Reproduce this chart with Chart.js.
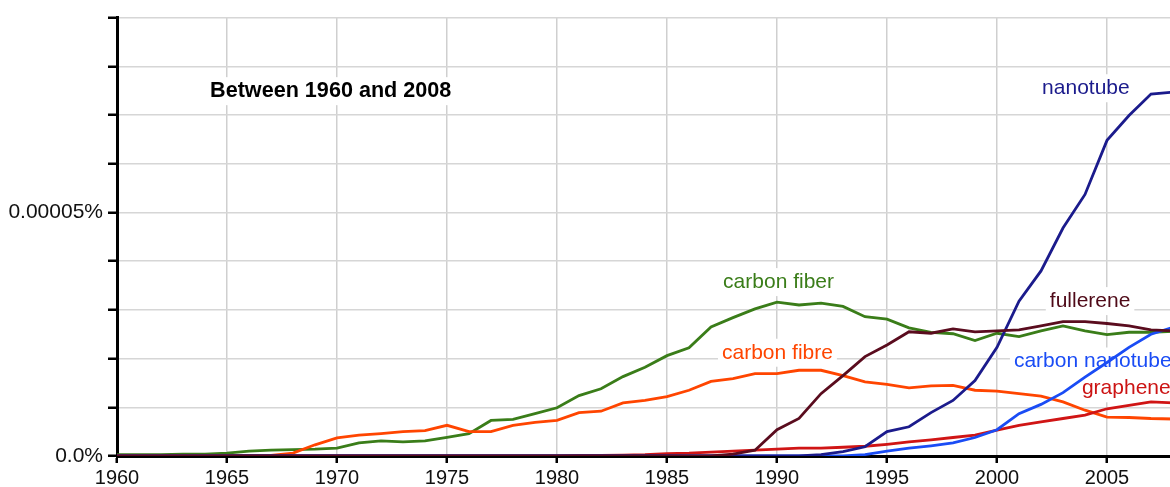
<!DOCTYPE html>
<html>
<head>
<meta charset="utf-8">
<script src="https://cdn.jsdelivr.net/npm/chart.js@4"></script>
<style>
  html, body { margin: 0; padding: 0; background: #fff; overflow: hidden; }
  #wrap { width: 1180px; height: 487px; position: relative; }
</style>
</head>
<body>
<div id="wrap"><canvas id="ngramChart"></canvas></div>
<script>
// values are in units of 0.00001 %
const years = [1960, 1961, 1962, 1963, 1964, 1965, 1966, 1967, 1968, 1969,
  1970, 1971, 1972, 1973, 1974, 1975, 1976, 1977, 1978, 1979,
  1980, 1981, 1982, 1983, 1984, 1985, 1986, 1987, 1988, 1989,
  1990, 1991, 1992, 1993, 1994, 1995, 1996, 1997, 1998, 1999,
  2000, 2001, 2002, 2003, 2004, 2005, 2006, 2007, 2008];

const carbonFiber = [0.03, 0.03, 0.03, 0.04, 0.04, 0.06, 0.10, 0.12, 0.13, 0.14,
  0.16, 0.27, 0.31, 0.29, 0.31, 0.38, 0.46, 0.73, 0.75, 0.87,
  0.99, 1.24, 1.38, 1.63, 1.82, 2.06, 2.22, 2.65, 2.84, 3.02,
  3.16, 3.10, 3.14, 3.07, 2.86, 2.81, 2.63, 2.54, 2.51, 2.37,
  2.52, 2.45, 2.57, 2.67, 2.57, 2.49, 2.54, 2.54, 2.56];

const carbonFibre = [0.01, 0.01, 0.01, 0.01, 0.01, 0.01, 0.01, 0.01, 0.06, 0.23,
  0.37, 0.43, 0.46, 0.50, 0.52, 0.63, 0.50, 0.50, 0.63, 0.69,
  0.73, 0.89, 0.92, 1.09, 1.14, 1.22, 1.35, 1.53, 1.59, 1.69,
  1.69, 1.76, 1.76, 1.65, 1.52, 1.47, 1.40, 1.44, 1.45, 1.35,
  1.33, 1.28, 1.23, 1.11, 0.94, 0.80, 0.79, 0.77, 0.76];

const fullerene = [0, 0, 0, 0, 0, 0, 0, 0, 0, 0,
  0, 0, 0, 0, 0, 0, 0, 0, 0, 0,
  0, 0, 0, 0, 0, 0, 0, 0, 0.04, 0.12,
  0.54, 0.77, 1.28, 1.65, 2.04, 2.28, 2.55, 2.52, 2.61, 2.55,
  2.57, 2.59, 2.67, 2.76, 2.76, 2.72, 2.67, 2.59, 2.57];

const nanotube = [0, 0, 0, 0, 0, 0, 0, 0, 0, 0,
  0, 0, 0, 0, 0, 0, 0, 0, 0, 0,
  0, 0, 0, 0, 0, 0, 0, 0, 0, 0,
  0, 0, 0.03, 0.09, 0.19, 0.50, 0.60, 0.89, 1.14, 1.55,
  2.23, 3.18, 3.80, 4.68, 5.37, 6.48, 6.99, 7.43, 7.47];

const carbonNanotube = [0, 0, 0, 0, 0, 0, 0, 0, 0, 0,
  0, 0, 0, 0, 0, 0, 0, 0, 0, 0,
  0, 0, 0, 0, 0, 0, 0, 0, 0, 0,
  0, 0, 0, 0, 0.03, 0.10, 0.16, 0.21, 0.27, 0.38,
  0.54, 0.87, 1.06, 1.30, 1.62, 1.92, 2.23, 2.50, 2.64];

const graphene = [0, 0, 0, 0, 0, 0, 0, 0, 0, 0,
  0, 0, 0, 0, 0, 0, 0, 0, 0, 0,
  0, 0.01, 0.01, 0.02, 0.03, 0.05, 0.06, 0.08, 0.10, 0.12,
  0.14, 0.16, 0.16, 0.18, 0.20, 0.24, 0.29, 0.33, 0.38, 0.43,
  0.53, 0.63, 0.70, 0.77, 0.84, 0.97, 1.04, 1.11, 1.09];

const xTickYears = [1960, 1965, 1970, 1975, 1980, 1985, 1990, 1995, 2000, 2005];
const yTickLabels = { 0: '0.0%', 5: '0.00005%' };

// in-chart text: [text, year, value, colour, bold]
const notes = [
  ['Between 1960 and 2008', 1964.23, 7.49, '#000000', true],
  ['nanotube', 2002.05, 7.55, '#1b1b8c', false],
  ['fullerene', 2002.4, 3.18, '#4f0a18', false],
  ['carbon fiber', 1987.55, 3.57, '#3a7d19', false],
  ['carbon fibre', 1987.5, 2.12, '#ff4500', false],
  ['carbon nanotube', 2000.77, 1.94, '#1a4cf5', false],
  ['graphene', 2003.86, 1.39, '#cc1414', false]
];

const toPoints = arr => arr.map((v, i) => ({ x: years[i], y: v }));

const series = [
  { label: 'fullerene', data: fullerene, color: '#5a0c1e' },
  { label: 'nanotube', data: nanotube, color: '#1b1b8c' },
  { label: 'carbon nanotube', data: carbonNanotube, color: '#1a4cf5' },
  { label: 'graphene', data: graphene, color: '#d01515' },
  { label: 'carbon fibre', data: carbonFibre, color: '#ff4500' },
  { label: 'carbon fiber', data: carbonFiber, color: '#3a7d19' }
];

const notesPlugin = {
  id: 'notes',
  beforeDatasetsDraw(chart) {
    const { ctx, scales } = chart;
    ctx.save();
    notes.forEach(([text, yr, val, color, bold]) => {
      ctx.font = (bold ? 'bold 21.6px' : '21px') + ' "Liberation Sans", Arial, sans-serif';
      const px = scales.x.getPixelForValue(yr);
      const py = scales.y.getPixelForValue(val);
      const w = ctx.measureText(text).width;
      ctx.fillStyle = '#ffffff';
      ctx.fillRect(px - 4, py - 14, w + 8, 28);
      ctx.fillStyle = color;
      ctx.textAlign = 'left';
      ctx.textBaseline = 'middle';
      ctx.fillText(text, px, py);
    });
    ctx.restore();
  }
};

const ctx = document.getElementById('ngramChart').getContext('2d');

const ngramChart = new Chart(ctx, {
  type: 'line',
  data: {
    datasets: series.map(s => ({
      label: s.label,
      data: toPoints(s.data),
      borderColor: s.color,
      backgroundColor: s.color,
      borderWidth: 2.8,
      pointRadius: 0,
      tension: 0,
      fill: false
    }))
  },
  options: {
    responsive: true,
    maintainAspectRatio: false,
    animation: false,
    layout: { padding: { top: 15, right: 7, bottom: 0, left: 0 } },
    plugins: {
      legend: { display: false },
      tooltip: { enabled: false }
    },
    scales: {
      x: {
        type: 'linear',
        min: 1960,
        max: 2008,
        afterBuildTicks: scale => {
          scale.ticks = xTickYears.map(v => ({ value: v }));
        },
        afterFit: scale => { scale.height = 31; },
        ticks: {
          padding: 3,
          maxRotation: 0,
          autoSkip: false,
          color: '#111',
          font: { family: '"Liberation Sans", Arial, sans-serif', size: 20 },
          callback: v => String(v)
        },
        grid: {
          color: '#cfcfcf',
          lineWidth: 1.5,
          tickColor: '#000',
          tickWidth: 2.5,
          tickLength: 7
        },
        border: { color: '#000', width: 3 }
      },
      y: {
        min: 0,
        max: 9,
        afterFit: scale => { scale.width = 117; },
        ticks: {
          stepSize: 1,
          padding: 5,
          color: '#111',
          font: { family: '"Liberation Sans", Arial, sans-serif', size: 21 },
          callback: v => yTickLabels[v] || ''
        },
        grid: {
          color: '#d6d6d6',
          lineWidth: 1.5,
          tickColor: '#000',
          tickWidth: 2.5,
          tickLength: 9
        },
        border: { color: '#000', width: 3 }
      }
    }
  },
  plugins: [notesPlugin]
});
</script>
</body>
</html>
